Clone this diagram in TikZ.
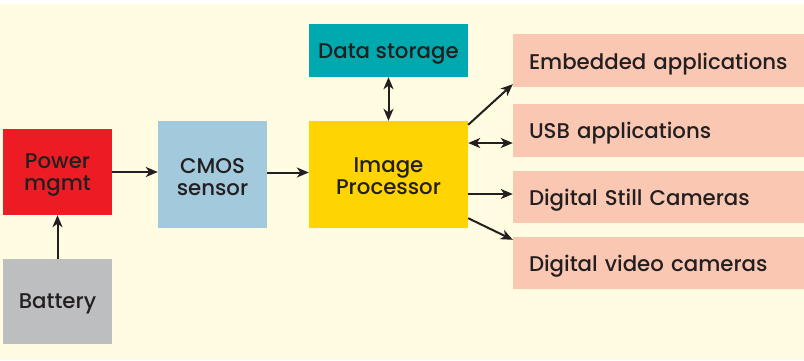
\documentclass[tikz,border=0pt]{standalone}
\usepackage{fontspec}
\setmainfont{Poppins}[UprightFont=* Medium]
\usetikzlibrary{arrows.meta,calc}
\definecolor{paper}{HTML}{FFFCE1}
\definecolor{ink}{HTML}{231F20}
\definecolor{pwrred}{HTML}{ED1C24}
\definecolor{batgray}{HTML}{BCBEC0}
\definecolor{sensblue}{HTML}{A3C9DD}
\definecolor{procyellow}{HTML}{FFD400}
\definecolor{storteal}{HTML}{00A9AD}
\definecolor{appsalmon}{HTML}{FAC7B3}
% lower a line of text without changing the size of its box
\newcommand\sink[2]{\raisebox{-#1}[\height][\depth]{#2}}
\begin{document}
\begin{tikzpicture}[x=1pt,y=-1pt,
  blk/.style={inner sep=0pt, align=center, text=ink,
    font=\fontsize{21.3}{22}\selectfont},
  appbox/.style={blk, fill=appsalmon, minimum width=291pt, minimum height=53pt,
    text width=259pt, inner xsep=16pt, align=left},
  tip/.tip={Stealth[length=12pt,width=10pt,inset=3.5pt]},
  link/.style={draw=ink, line width=2pt, -tip},
  duplex/.style={draw=ink, line width=2pt, tip-tip}]
\useasboundingbox (0,0) rectangle (804,360);
\fill[white] (0,0) rectangle (804,360);
\fill[paper] (0,4) rectangle (804,360);

% processing chain
\node[blk, fill=pwrred, minimum width=109pt, minimum height=86pt] (pm) at (57.5,172)
  {\sink{3pt}{Power}\\\sink{3pt}{mgmt}};
\node[blk, fill=batgray, minimum width=109pt, minimum height=85pt] (bat) at (57.5,301.5)
  {\sink{2pt}{Battery}};
\node[blk, fill=sensblue, minimum width=109pt, minimum height=107pt] (cmos) at (212.5,174.5)
  {\sink{3pt}{CMOS}\\\sink{3pt}{sensor}};
\node[blk, fill=procyellow, minimum width=159pt, minimum height=107pt] (ip) at (388.5,174.5)
  {\sink{1.5pt}{Image}\\\sink{1.5pt}{Processor}};
\node[blk, fill=storteal, minimum width=159pt, minimum height=53pt] (ds) at (388.5,50.5)
  {\sink{3.5pt}{Data storage}};

% application targets
\node[appbox] (emb) at (658.5,60.5) {\sink{3.5pt}{Embedded applications}};
\node[appbox] (usb) at (658.5,130.5) {\sink{3pt}{USB applications}};
\node[appbox, minimum height=52pt] (still) at (658.5,197) {\sink{3pt}{Digital Still Cameras}};
\node[appbox, minimum height=52pt] (vid) at (658.5,263) {\sink{3.5pt}{Digital video cameras}};

% connectors
\draw[link] (bat.north) -- (pm.south);
\draw[link] (pm.east) -- (pm.east -| cmos.west);
\draw[link] ($(cmos.east)+(0,-2)$) -- ($(cmos.east -| ip.west)+(0,-2)$);
\draw[duplex] (ds.south) -- (ip.north);
\coordinate (usbline) at (490,143);
\draw[duplex] (ip.east |- usbline) -- (usb.west |- usbline);
\draw[link] ($(ip.north east)+(0,4)$) -- ($(emb.south west)+(0,-3)$);
\draw[link] ($(still.west -| ip.east)+(0,-3)$) -- ($(still.west)+(0,-3)$);
\draw[link] ($(ip.south east)+(0,-10)$) -- ($(vid.north west)+(0,3)$);
\end{tikzpicture}
\end{document}
